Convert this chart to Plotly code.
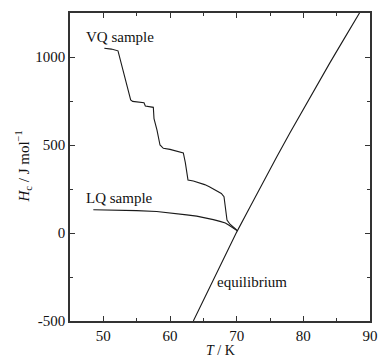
import plotly.graph_objects as go

# VQ sample
vq_T = [50.15, 51.2, 52.2, 52.5, 52.9, 53.4, 54.1, 54.4, 55.3, 56.1, 56.3, 57.5, 57.6, 58.05, 58.5, 59.0,
        60.0, 61.0, 62.0, 62.3, 62.7, 63.5, 64.4, 65.2, 65.9, 66.5, 67.1, 67.7, 68.1, 68.3, 68.55, 69.0, 69.4, 70.0]
vq_H = [1050, 1045, 1035, 990, 926, 850, 756, 748, 745, 740, 722, 714, 650, 585, 500, 481,
        475, 466, 455, 400, 301, 295, 286, 275, 263, 250, 237, 225, 206, 131, 74, 50, 36, 17]

# LQ sample
lq_T = [48.5, 52, 55, 58, 59.5, 61, 62.5, 64, 65.5, 66.5, 67.5, 68.3, 68.8, 69.3, 69.8, 70.1]
lq_H = [132, 130, 127, 122, 117, 111, 103, 96, 86, 76, 66, 57, 45, 32, 17, 12]

# equilibrium
eq_T = [63.5, 66, 68, 70, 72, 74, 76, 78, 80, 82, 84, 86, 88.5]
eq_H = [-500, -305, -150, 5, 148, 292, 432, 570, 705, 838, 968, 1096, 1255]

x_ticks = [50, 60, 70, 80, 90]
y_ticks = [-500, 0, 500, 1000]

FONT = "'Liberation Serif', 'Times New Roman', 'DejaVu Serif', serif"
LC = "#1a1a1a"

fig = go.Figure()
for T, H in [(vq_T, vq_H), (lq_T, lq_H), (eq_T, eq_H)]:
    fig.add_trace(go.Scatter(x=T, y=H, mode="lines", line=dict(color=LC, width=1.1),
                             showlegend=False, hoverinfo="skip"))

fig.add_annotation(x=47.1, y=1115, text="VQ sample", showarrow=False, xanchor="left", yanchor="middle",
                   font=dict(family=FONT, size=15, color="#111"))
fig.add_annotation(x=47.1, y=199, text="LQ sample", showarrow=False, xanchor="left", yanchor="middle",
                   font=dict(family=FONT, size=15, color="#111"))
fig.add_annotation(x=66.8, y=-278, text="equilibrium", showarrow=False, xanchor="left", yanchor="middle",
                   font=dict(family=FONT, size=15, color="#111"))

fig.add_annotation(xref="paper", yref="paper", x=0.5, y=-0.065, text="<i>T</i> / K", showarrow=False,
                   xanchor="center", yanchor="top", font=dict(family=FONT, size=14, color="#111"))
fig.add_annotation(xref="paper", yref="paper", x=-0.155, y=0.5, textangle=-90,
                   text="<i>H</i><sub>c</sub> / J mol<sup>−1</sup>", showarrow=False,
                   xanchor="center", yanchor="middle", font=dict(family=FONT, size=15, color="#111"))

axis_common = dict(showgrid=False, zeroline=False, showline=True, linecolor="#333", linewidth=1.5,
                   mirror="ticks", ticks="inside", ticklen=5, tickcolor="#333", tickwidth=1.2,
                   tickfont=dict(family=FONT, size=15, color="#111"))

fig.update_xaxes(range=[45, 90], tickvals=x_ticks, ticktext=[str(v) for v in x_ticks],
                 minor=dict(dtick=5, tick0=0, ticks="inside", ticklen=3, tickcolor="#333"),
                 **axis_common)
fig.update_yaxes(range=[-500, 1250], tickvals=y_ticks, ticktext=[str(v) for v in y_ticks],
                 minor=dict(dtick=250, tick0=0, ticks="inside", ticklen=3, tickcolor="#333"),
                 **axis_common)

fig.update_layout(width=384, height=361, margin=dict(l=70, r=6, t=13, b=40),
                  paper_bgcolor="white", plot_bgcolor="white",
                  font=dict(family=FONT, size=15, color="#111"))

fig.write_html("out.html")
